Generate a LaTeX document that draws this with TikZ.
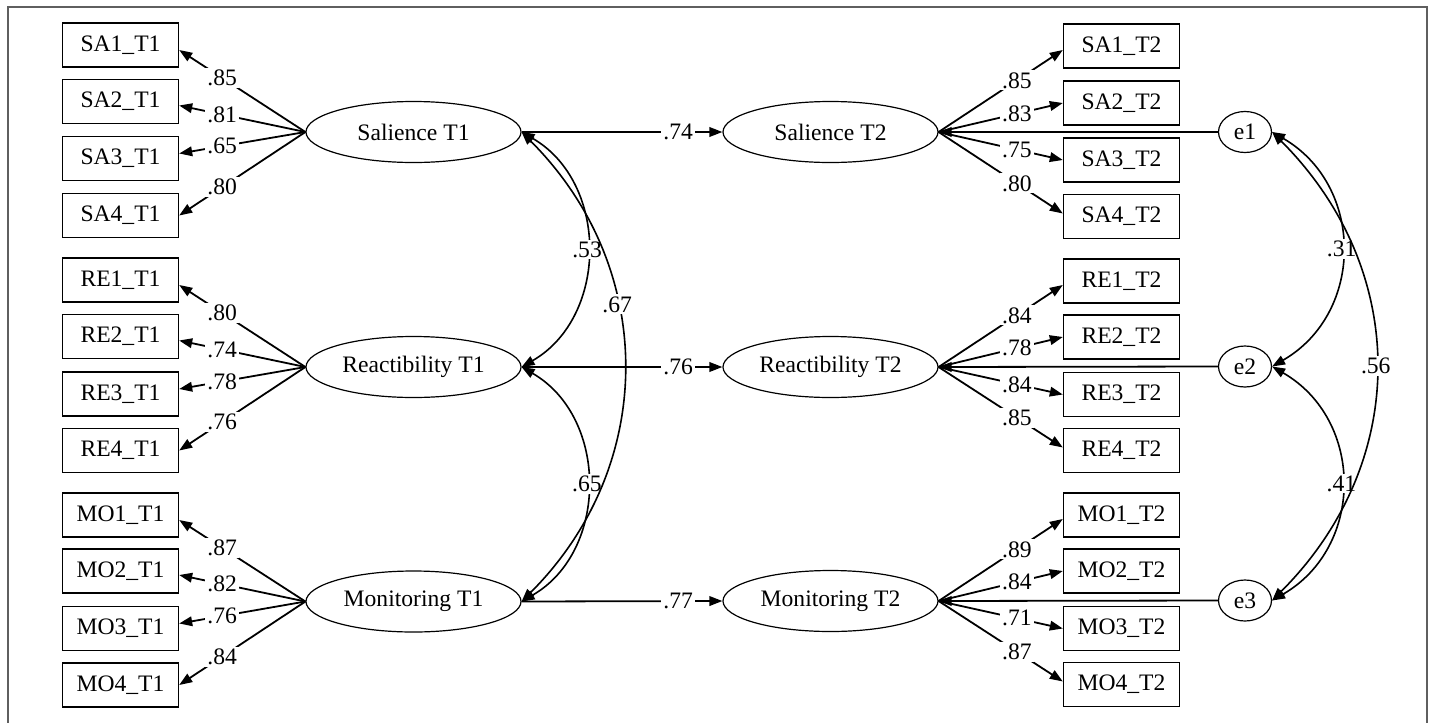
\documentclass[tikz,border=0pt]{standalone}
\usepackage{fontspec}
\setmainfont{Liberation Serif}
\usetikzlibrary{shapes.geometric,arrows.meta}
\definecolor{framegray}{RGB}{95,95,95}

\begin{document}
\begin{tikzpicture}[x=0.5pt,y=-0.5pt,
    font=\fontsize{11.8}{14}\selectfont,
    obs/.style={draw,line width=0.7pt,minimum width=58pt,minimum height=22pt,inner sep=0pt},
    lat/.style={draw,ellipse,line width=0.6pt,minimum width=107.5pt,minimum height=30.5pt,inner sep=0pt},
    err/.style={draw,ellipse,line width=0.6pt,minimum width=26.5pt,minimum height=20.5pt,inner sep=0pt},
    reg/.style={-{Triangle[length=6.5pt,width=4.8pt]},line width=0.9pt},
    cov/.style={{Triangle[length=6.5pt,width=4.8pt]}-{Triangle[length=6.5pt,width=4.8pt]},line width=0.8pt},
    coef/.style={fill=white,inner sep=1pt}]
    \useasboundingbox (0,0) rectangle (1430,723);
    \draw[framegray,line width=1pt] (8,723) -- (8,7) -- (1427,7) -- (1427,723);

    % indicators, time 1
    \node[obs] (SA1T1) at (120.5,45) {SA1\_T1};
    \node[obs] (SA2T1) at (120.5,101.5) {SA2\_T1};
    \node[obs] (SA3T1) at (120.5,158.5) {SA3\_T1};
    \node[obs] (SA4T1) at (120.5,215.5) {SA4\_T1};
    \node[obs] (RE1T1) at (120.5,280) {RE1\_T1};
    \node[obs] (RE2T1) at (120.5,336.5) {RE2\_T1};
    \node[obs] (RE3T1) at (120.5,394) {RE3\_T1};
    \node[obs] (RE4T1) at (120.5,450.5) {RE4\_T1};
    \node[obs] (MO1T1) at (120.5,515) {MO1\_T1};
    \node[obs] (MO2T1) at (120.5,571) {MO2\_T1};
    \node[obs] (MO3T1) at (120.5,628.5) {MO3\_T1};
    \node[obs] (MO4T1) at (120.5,685) {MO4\_T1};

    % indicators, time 2
    \node[obs] (SA1T2) at (1121.5,46) {SA1\_T2};
    \node[obs] (SA2T2) at (1121.5,103) {SA2\_T2};
    \node[obs] (SA3T2) at (1121.5,160) {SA3\_T2};
    \node[obs] (SA4T2) at (1121.5,216.5) {SA4\_T2};
    \node[obs] (RE1T2) at (1121.5,281) {RE1\_T2};
    \node[obs] (RE2T2) at (1121.5,337) {RE2\_T2};
    \node[obs] (RE3T2) at (1121.5,394.5) {RE3\_T2};
    \node[obs] (RE4T2) at (1121.5,450.5) {RE4\_T2};
    \node[obs] (MO1T2) at (1121.5,515) {MO1\_T2};
    \node[obs] (MO2T2) at (1121.5,571) {MO2\_T2};
    \node[obs] (MO3T2) at (1121.5,628.5) {MO3\_T2};
    \node[obs] (MO4T2) at (1121.5,684.5) {MO4\_T2};

    % latent factors and errors
    \node[lat] (SalT1) at (413.5,132) {Salience T1};
    \node[lat] (ReaT1) at (413.5,367) {Reactibility T1};
    \node[lat] (MonT1) at (413.5,601.5) {Monitoring T1};
    \node[lat] (SalT2) at (830.5,132) {Salience T2};
    \node[lat] (ReaT2) at (830.5,367) {Reactibility T2};
    \node[lat] (MonT2) at (830.5,601) {Monitoring T2};
    \node[err] (e1) at (1245,132) {e1};
    \node[err] (e2) at (1245,366.5) {e2};
    \node[err] (e3) at (1245,600.5) {e3};

    % loadings T1
    \draw[reg] (SalT1.west) -- node[coef,pos=.66]{.85} ([yshift=-2.5pt]SA1T1.east);
    \draw[reg] (SalT1.west) -- node[coef,pos=.66]{.81} ([yshift=-2pt]SA2T1.east);
    \draw[reg] (SalT1.west) -- node[coef,pos=.66]{.65} ([yshift=2.5pt]SA3T1.east);
    \draw[reg] (SalT1.west) -- node[coef,pos=.66]{.80} (SA4T1.east);
    \draw[reg] (ReaT1.west) -- node[coef,pos=.66]{.80} ([yshift=-2.5pt]RE1T1.east);
    \draw[reg] (ReaT1.west) -- node[coef,pos=.66]{.74} ([yshift=-2pt]RE2T1.east);
    \draw[reg] (ReaT1.west) -- node[coef,pos=.66]{.78} ([yshift=2.5pt]RE3T1.east);
    \draw[reg] (ReaT1.west) -- node[coef,pos=.66]{.76} (RE4T1.east);
    \draw[reg] (MonT1.west) -- node[coef,pos=.66]{.87} ([yshift=-2.5pt]MO1T1.east);
    \draw[reg] (MonT1.west) -- node[coef,pos=.66]{.82} ([yshift=-2pt]MO2T1.east);
    \draw[reg] (MonT1.west) -- node[coef,pos=.66]{.76} ([yshift=2.5pt]MO3T1.east);
    \draw[reg] (MonT1.west) -- node[coef,pos=.66]{.84} (MO4T1.east);

    % loadings T2
    \draw[reg] (SalT2.east) -- node[coef,pos=.63]{.85} ([yshift=-2pt]SA1T2.west);
    \draw[reg] (SalT2.east) -- node[coef,pos=.63]{.83} (SA2T2.west);
    \draw[reg] (SalT2.east) -- node[coef,pos=.63]{.75} (SA3T2.west);
    \draw[reg] (SalT2.east) -- node[coef,pos=.63]{.80} ([yshift=1.5pt]SA4T2.west);
    \draw[reg] (ReaT2.east) -- node[coef,pos=.63]{.84} ([yshift=-2pt]RE1T2.west);
    \draw[reg] (ReaT2.east) -- node[coef,pos=.63]{.78} (RE2T2.west);
    \draw[reg] (ReaT2.east) -- node[coef,pos=.63]{.84} (RE3T2.west);
    \draw[reg] (ReaT2.east) -- node[coef,pos=.63]{.85} ([yshift=1.5pt]RE4T2.west);
    \draw[reg] (MonT2.east) -- node[coef,pos=.63]{.89} ([yshift=-2pt]MO1T2.west);
    \draw[reg] (MonT2.east) -- node[coef,pos=.63]{.84} (MO2T2.west);
    \draw[reg] (MonT2.east) -- node[coef,pos=.63]{.71} (MO3T2.west);
    \draw[reg] (MonT2.east) -- node[coef,pos=.63]{.87} ([yshift=1.5pt]MO4T2.west);

    % stability paths and errors
    \draw[reg] (SalT1.east) -- node[coef,pos=.78]{.74} (SalT2.west);
    \draw[reg] (ReaT1.east) -- node[coef,pos=.78]{.76} (ReaT2.west);
    \draw[reg] (MonT1.east) -- node[coef,pos=.78]{.77} (MonT2.west);
    \draw[reg] (e1.west) -- (SalT2.east);
    \draw[reg] (e2.west) -- (ReaT2.east);
    \draw[reg] (e3.west) -- (MonT2.east);

    % covariances
    \draw[cov] (SalT1.east) to[out=-30,in=30,looseness=1.1] node[coef]{.53} (ReaT1.east);
    \draw[cov] (ReaT1.east) to[out=-30,in=30,looseness=1.1] node[coef]{.65} (MonT1.east);
    \draw[cov] (SalT1.east) to[out=-45,in=45,looseness=1.05] node[coef,pos=.375]{.67} (MonT1.east);
    \draw[cov] (e1.east) to[out=-30,in=30,looseness=1.17] node[coef]{.31} (e2.east);
    \draw[cov] (e2.east) to[out=-30,in=30,looseness=1.17] node[coef]{.41} (e3.east);
    \draw[cov] (e1.east) to[out=-45,in=45,looseness=1.07] node[coef]{.56} (e3.east);
\end{tikzpicture}
\end{document}
